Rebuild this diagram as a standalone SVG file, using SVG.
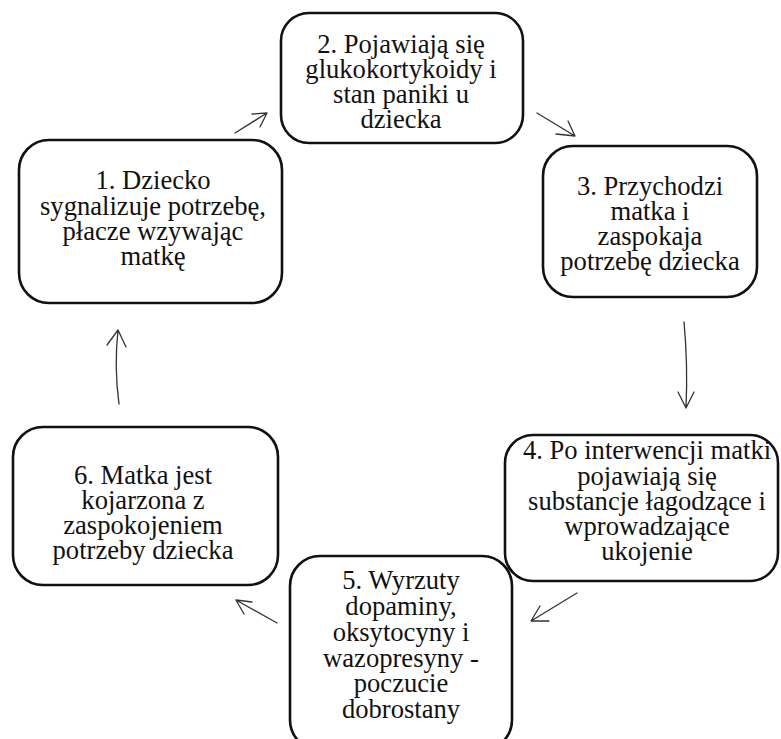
<svg xmlns="http://www.w3.org/2000/svg" width="781" height="739" viewBox="0 0 781 739">
<style>
.box{fill:none;stroke:#111;stroke-width:2.6}
.t{font-family:'Liberation Serif','Times New Roman',serif;font-size:26.6px;fill:#111;text-anchor:middle}
.c{fill:none;stroke:#333;stroke-width:1.3;stroke-linecap:round;stroke-linejoin:round}
</style>
<rect width="781" height="739" fill="#fff"/>
<g id="node1">
<rect class="box" x="19" y="140" width="263" height="163" rx="30"/>
<text class="t"><tspan x="153" y="189">1. Dziecko</tspan><tspan x="153" y="215">sygnalizuje potrzebę,</tspan><tspan x="153" y="240">płacze wzywając</tspan><tspan x="153" y="265">matkę</tspan></text>
</g>
<g id="node2">
<rect class="box" x="281" y="13" width="242" height="130" rx="28"/>
<text class="t"><tspan x="401" y="53">2. Pojawiają się</tspan><tspan x="401" y="78">glukokortykoidy i</tspan><tspan x="401" y="103">stan paniki u</tspan><tspan x="401" y="128">dziecka</tspan></text>
</g>
<g id="node3">
<rect class="box" x="543" y="146" width="214" height="151" rx="30"/>
<text class="t"><tspan x="650" y="195">3. Przychodzi</tspan><tspan x="650" y="220">matka i</tspan><tspan x="650" y="245">zaspokaja</tspan><tspan x="650" y="270">potrzebę dziecka</tspan></text>
</g>
<g id="node4">
<rect class="box" x="505" y="435" width="273" height="146" rx="28"/>
<text class="t"><tspan x="647" y="459">4. Po interwencji matki</tspan><tspan x="647" y="485">pojawiają się</tspan><tspan x="647" y="510">substancje łagodzące i</tspan><tspan x="647" y="535">wprowadzające</tspan><tspan x="647" y="560">ukojenie</tspan></text>
</g>
<g id="node5">
<rect class="box" x="290" y="556" width="222" height="194" rx="30"/>
<text class="t"><tspan x="401" y="589">5. Wyrzuty</tspan><tspan x="401" y="615">dopaminy,</tspan><tspan x="401" y="641">oksytocyny i</tspan><tspan x="401" y="667">wazopresyny -</tspan><tspan x="401" y="692">poczucie</tspan><tspan x="401" y="718">dobrostany</tspan></text>
</g>
<g id="node6">
<rect class="box" x="13" y="427" width="265" height="158" rx="30"/>
<text class="t"><tspan x="143" y="484">6. Matka jest</tspan><tspan x="143" y="509">kojarzona z</tspan><tspan x="143" y="534">zaspokojeniem</tspan><tspan x="143" y="559">potrzeby dziecka</tspan></text>
</g>
<g id="connectors">
<path class="c" d="M235,133 L267,113 M252,114 L267,113 L260,127"/>
<path class="c" d="M537,113 L575,136 M568,121 L575,136 L556,134"/>
<path class="c" d="M684,322 Q688,365 686,408 M678,392 L686,408 L694,392"/>
<path class="c" d="M577,593 L531,621 M540,606 L531,621 L549,621"/>
<path class="c" d="M277,623 L236,600 M244,614 L236,600 L252,602"/>
<path class="c" d="M119,404 Q114,367 118,330 M107,345 L118,330 L126,347"/>
</g>
</svg>
